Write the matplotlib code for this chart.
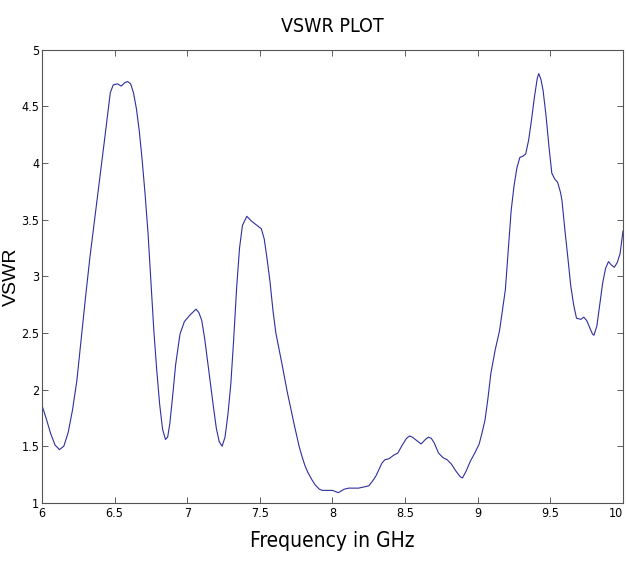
import matplotlib
matplotlib.use("Agg")
import matplotlib.pyplot as plt
from matplotlib import font_manager

# frequency (GHz) and VSWR
freq = [6.00, 6.03, 6.06, 6.09, 6.12, 6.15, 6.18, 6.21, 6.24, 6.27, 6.30, 6.33,
        6.37, 6.40, 6.43, 6.45, 6.47, 6.49, 6.52, 6.545, 6.57, 6.59, 6.61, 6.63,
        6.65, 6.67, 6.69, 6.71, 6.73, 6.75, 6.77, 6.79, 6.81, 6.83, 6.85, 6.865,
        6.88, 6.90, 6.92, 6.95, 6.98, 7.02, 7.06, 7.08, 7.10, 7.12, 7.14, 7.16,
        7.18, 7.20, 7.22, 7.24, 7.26, 7.28, 7.30, 7.32, 7.34, 7.36, 7.38, 7.41,
        7.44, 7.47, 7.51, 7.53, 7.55, 7.57, 7.59, 7.61, 7.65, 7.69, 7.74, 7.77,
        7.79, 7.81, 7.83, 7.86, 7.88, 7.91, 7.93, 8.00, 8.04, 8.08, 8.11, 8.18,
        8.25, 8.28, 8.30, 8.34, 8.36, 8.39, 8.42, 8.45, 8.48, 8.51, 8.53, 8.55,
        8.58, 8.61, 8.64, 8.66, 8.68, 8.70, 8.73, 8.76, 8.79, 8.82, 8.85, 8.88,
        8.895, 8.92, 8.95, 8.98, 9.01, 9.03, 9.05, 9.07, 9.09, 9.12, 9.15, 9.17,
        9.19, 9.21, 9.23, 9.25, 9.27, 9.29, 9.31, 9.33, 9.35, 9.37, 9.39, 9.41,
        9.42, 9.435, 9.45, 9.47, 9.49, 9.51, 9.53, 9.55, 9.57, 9.58, 9.60, 9.62,
        9.64, 9.66, 9.68, 9.71, 9.73, 9.75, 9.77, 9.79, 9.80, 9.82, 9.84, 9.86,
        9.88, 9.90, 9.92, 9.94, 9.96, 9.98, 10.00]
vswr = [1.86, 1.74, 1.61, 1.51, 1.47, 1.50, 1.62, 1.82, 2.08, 2.45, 2.82, 3.17,
        3.58, 3.88, 4.20, 4.41, 4.62, 4.69, 4.70, 4.68, 4.71, 4.72, 4.70, 4.62,
        4.48, 4.28, 4.02, 3.72, 3.38, 2.95, 2.52, 2.17, 1.87, 1.65, 1.56, 1.58,
        1.70, 1.95, 2.22, 2.49, 2.60, 2.66, 2.71, 2.68, 2.61, 2.45, 2.25, 2.05,
        1.85, 1.66, 1.54, 1.50, 1.58, 1.78, 2.05, 2.45, 2.90, 3.25, 3.45, 3.53,
        3.49, 3.46, 3.42, 3.33, 3.15, 2.95, 2.70, 2.50, 2.24, 1.97, 1.67, 1.50,
        1.41, 1.33, 1.27, 1.20, 1.16, 1.12, 1.11, 1.11, 1.09, 1.12, 1.13, 1.13,
        1.15, 1.20, 1.24, 1.35, 1.38, 1.39, 1.42, 1.44, 1.51, 1.57, 1.59, 1.58,
        1.55, 1.52, 1.56, 1.58, 1.57, 1.53, 1.44, 1.40, 1.38, 1.34, 1.28, 1.23,
        1.22, 1.28, 1.37, 1.44, 1.52, 1.62, 1.73, 1.92, 2.14, 2.35, 2.52, 2.70,
        2.88, 3.23, 3.58, 3.80, 3.96, 4.05, 4.06, 4.08, 4.20, 4.38, 4.58, 4.75,
        4.79, 4.74, 4.64, 4.42, 4.15, 3.91, 3.86, 3.83, 3.74, 3.67, 3.41, 3.17,
        2.92, 2.75, 2.63, 2.62, 2.64, 2.61, 2.55, 2.49, 2.48, 2.56, 2.75, 2.94,
        3.07, 3.13, 3.10, 3.08, 3.12, 3.20, 3.40]

xticks = [6, 6.5, 7, 7.5, 8, 8.5, 9, 9.5, 10]
yticks = [1, 1.5, 2, 2.5, 3, 3.5, 4, 4.5, 5]

# narrow font like the matlab figure, if one is around
fl = font_manager.fontManager.ttflist
if any(f.name == 'Liberation Sans Narrow' for f in fl):
    narrow = dict(family=['Liberation Sans Narrow', 'DejaVu Sans'])
elif any(f.name == 'DejaVu Sans' and 'condensed' in str(f.stretch) for f in fl):
    narrow = dict(family=['DejaVu Sans'], stretch='condensed')
else:
    narrow = dict(family=['Liberation Sans', 'DejaVu Sans'])

fig = plt.figure(figsize=(6.27, 5.65), dpi=100)
ax = fig.add_axes([0.067, 0.110, 0.9266, 0.8018])
ax.plot(freq, vswr, color='#2e2ea0', linewidth=0.8)

ax.set_xlim(6, 10)
ax.set_ylim(1, 5)
ax.set_xticks(xticks)
ax.set_yticks(yticks)
xl = ax.set_xticklabels(['%g' % t for t in xticks], fontsize=9, **narrow)
xl[-1].set_ha('right')  # keep "10" inside the figure
ax.set_yticklabels(['%g' % t for t in yticks], fontsize=9, **narrow)
ax.tick_params(direction='in', top=True, right=True, length=4, width=0.6,
               color='#444444', pad=3)
ax.tick_params(axis='y', pad=2)
for s in ax.spines.values():
    s.set_linewidth(0.8)
    s.set_color('#555555')

ax.set_title('VSWR PLOT', fontsize=14, pad=13, **narrow)
ax.set_xlabel('Frequency in GHz', fontsize=15, labelpad=8, **narrow)
ax.set_ylabel('VSWR', family=['Liberation Sans', 'DejaVu Sans'], fontsize=14)
ax.yaxis.set_label_coords(-0.038, 0.5)

fig.savefig('out.png', dpi=100)
